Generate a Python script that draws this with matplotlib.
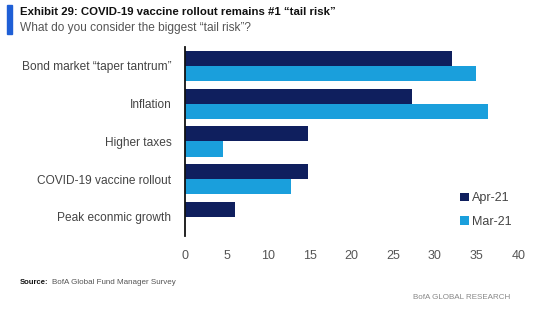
import matplotlib
matplotlib.use("Agg")
import matplotlib.pyplot as plt
import numpy as np
from matplotlib.patches import Rectangle

plt.rcParams["font.family"] = ["Liberation Sans", "DejaVu Sans"]

categories = ["Bond market \u201ctaper tantrum\u201d", "Inflation", "Higher taxes",
              "COVID-19 vaccine rollout", "Peak econmic growth"]
apr21 = [32.1, 27.2, 14.7, 14.7, 6.0]
mar21 = [34.9, 36.4, 4.6, 12.7, 0.0]
xticks = [0, 5, 10, 15, 20, 25, 30, 35, 40]

NAVY = "#0f1f5e"
LIGHT = "#1a9fdc"
GREY = "#555555"

fig = plt.figure(figsize=(5.56, 3.24), dpi=100)
ax = fig.add_axes([0.333, 0.272, 0.599, 0.583])

y = np.arange(len(categories))
h = 0.4
ax.barh(y - h / 2, apr21, height=h, color=NAVY, label="Apr-21")
ax.barh(y + h / 2, mar21, height=h, color=LIGHT, label="Mar-21")

ax.set_xlim(0, 40)
ax.set_ylim(4.5, -0.5)
ax.set_yticks(y)
ax.set_yticklabels(categories, fontsize=8.6, color="#444444")
ax.set_xticks(xticks)
ax.set_xticklabels([str(t) for t in xticks], fontsize=9, color="#555555")
ax.tick_params(axis="y", length=0, pad=10)
ax.tick_params(axis="x", length=0, pad=10)
for s in ("top", "right", "bottom"):
    ax.spines[s].set_visible(False)
ax.spines["left"].set_color("#111111")
ax.spines["left"].set_linewidth(1.3)

ax.legend(loc="lower right", bbox_to_anchor=(1.0, 0.01), frameon=False,
          borderaxespad=0.1, fontsize=9, handlelength=0.7, handleheight=0.7,
          handletextpad=0.3, labelspacing=0.9, labelcolor="#444444")

# header
fig.patches.append(Rectangle((0.013, 0.895), 0.008, 0.09, transform=fig.transFigure,
                             color="#1f5fd6"))
fig.text(0.036, 0.962, "Exhibit 29: COVID-19 vaccine rollout remains #1 \u201ctail risk\u201d",
         fontsize=8.2, fontweight="bold", color="#111111", va="center")
fig.text(0.036, 0.915, "What do you consider the biggest \u201ctail risk\u201d?",
         fontsize=8.6, color=GREY, va="center")

# footer
fig.text(0.036, 0.127, "Source:", fontsize=5.5, fontweight="bold", color="#111111", va="center")
fig.text(0.093, 0.127, "BofA Global Fund Manager Survey", fontsize=5.8, color=GREY, va="center")
fig.text(0.918, 0.083, "BofA GLOBAL RESEARCH", fontsize=5.8, color="#888888",
         va="center", ha="right")

fig.savefig("out.png", dpi=100, facecolor="white")
